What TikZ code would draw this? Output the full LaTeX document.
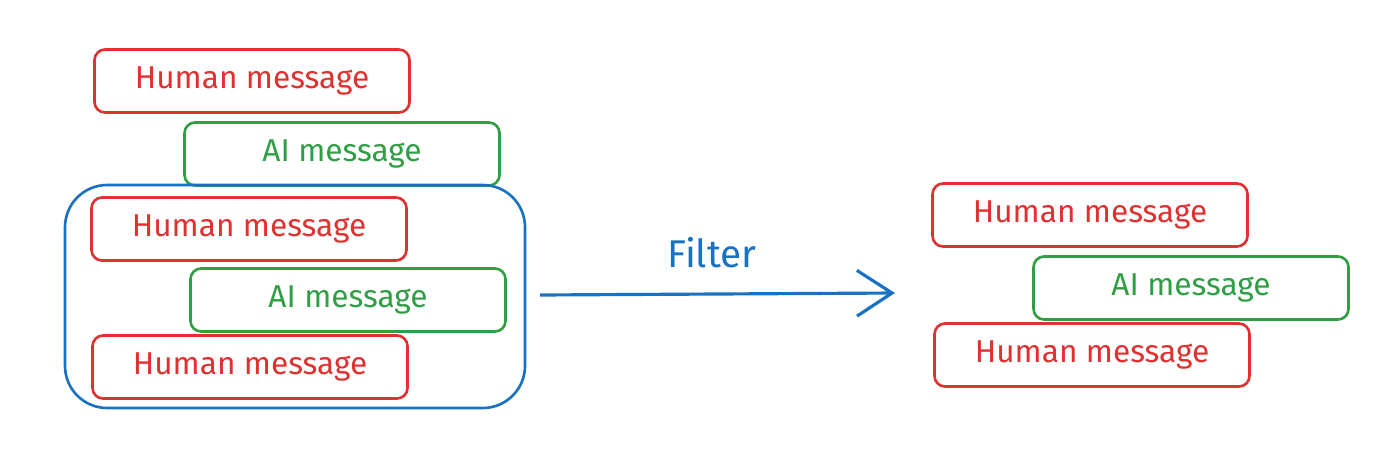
\documentclass[tikz,border=0pt]{standalone}
\usepackage{fontspec}
\setmainfont{Fira Sans}
\usetikzlibrary{arrows.meta}
\definecolor{msgred}{RGB}{224,49,49}
\definecolor{msggreen}{RGB}{47,158,68}
\definecolor{msgblue}{RGB}{25,113,194}
\tikzset{
  msg/.style={draw, rounded corners=6pt, line width=1.5pt, minimum width=6.3cm, minimum height=1.26cm, font=\fontsize{18}{21}\selectfont},
  human/.style={msg, draw=msgred, text=msgred},
  ai/.style={msg, draw=msggreen, text=msggreen}
}
\begin{document}
\begin{tikzpicture}[x=0.02cm, y=-0.02cm]
	\useasboundingbox (0,0) rectangle (1400,471);
	% left stack
	\node[human] (h1) at (252, 81) {Human message};
	\node[ai] (a1) at (342, 154) {AI message};
	\node[human] (h2) at (249, 229) {Human message};
	\node[ai] (a2) at (348, 300) {AI message};
	\node[human] (h3) at (250, 367) {Human message};
	% selection
	\draw[msgblue, line width=1.5pt, rounded corners=24pt] (65,185) rectangle (525,408);
	% filter arrow
	\coordinate (s) at (540, 295);
	\coordinate (t) at (895, 293);
	\draw[msgblue, line width=1.8pt, -{Straight Barb[length=20pt, width=26pt]}] (s) -- (t);
	\node[msgblue, font=\fontsize{22}{26}\selectfont] (f) at (712, 253) {Filter};
	% right stack
	\node[human] (h4) at (1090, 215) {Human message};
	\node[ai] (a3) at (1191, 288) {AI message};
	\node[human] (h5) at (1092, 355) {Human message};
\end{tikzpicture}
\end{document}
